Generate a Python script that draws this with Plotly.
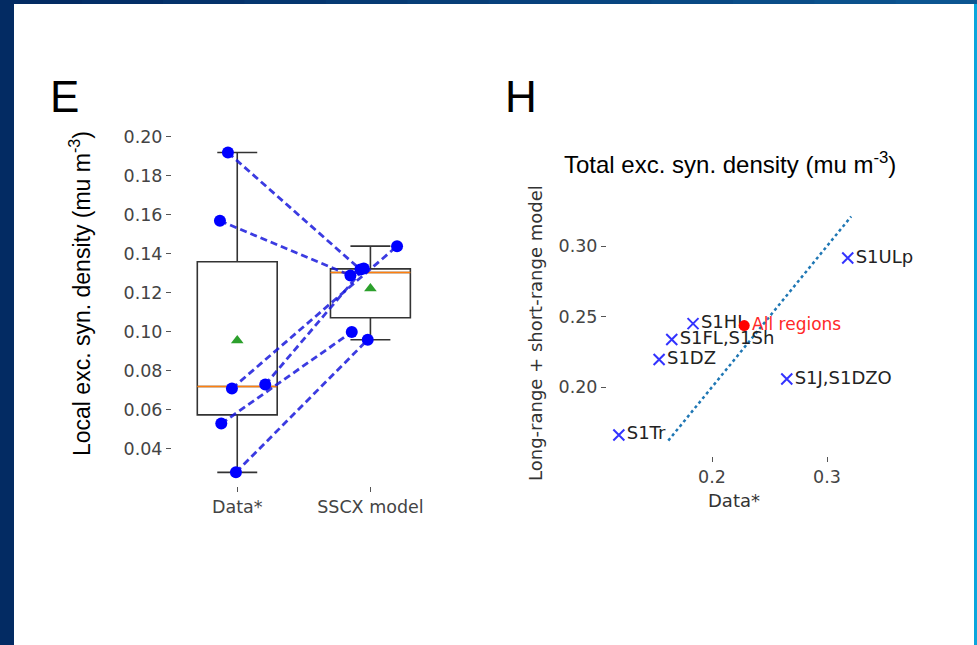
import numpy as np
import plotly.graph_objects as go

# ---------------- data ----------------
categories = ["Data*", "SSCX model"]
data_vals = [0.192, 0.157, 0.071, 0.073, 0.053, 0.028]
model_vals = [0.132, 0.129, 0.144, 0.1325, 0.100, 0.096]
data_offsets = [-0.07, -0.13, -0.04, 0.21, -0.12, -0.01]
model_offsets = [-0.075, -0.15, 0.2, -0.05, -0.14, -0.02]
left_yticks = [0.04, 0.06, 0.08, 0.10, 0.12, 0.14, 0.16, 0.18, 0.20]

regions = ["S1ULp", "S1HL", "S1FL,S1Sh", "S1DZ", "S1J,S1DZO", "S1Tr"]
region_data = [0.318, 0.1835, 0.165, 0.154, 0.265, 0.119]
region_model = [0.2915, 0.245, 0.2337, 0.2195, 0.2057, 0.166]
all_regions_data = [0.228]
all_regions_model = [0.2436]
identity_span = [0.162, 0.321]
right_xticks = [0.2, 0.3]
right_yticks = [0.20, 0.25, 0.30]

W, H = 977, 645
def px(x):
    return x / W
def py(y):
    return 1 - y / H

TICKFONT = dict(family="DejaVu Sans", size=17.5, color="#444")
fig = go.Figure()

# ---------------- left panel: box plots ----------------
groups = [data_vals, model_vals]
for i, vals in enumerate(groups):
    pos = i + 1
    arr = np.array(vals)
    q1, med, q3 = np.percentile(arr, [25, 50, 75])
    iqr = q3 - q1
    lo = arr[arr >= q1 - 1.5 * iqr].min()
    hi = arr[arr <= q3 + 1.5 * iqr].max()
    fig.add_trace(go.Box(
        x=[pos], q1=[q1], median=[med], q3=[q3], lowerfence=[lo], upperfence=[hi],
        width=0.6, whiskerwidth=0.5, fillcolor="white",
        line=dict(color="#333", width=1.6), boxpoints=False,
        xaxis="x", yaxis="y", showlegend=False, hoverinfo="skip"))
    fig.add_trace(go.Scatter(
        x=[pos - 0.3, pos + 0.3], y=[med, med], mode="lines",
        line=dict(color="#ff7f0e", width=1.6), xaxis="x", yaxis="y",
        showlegend=False, hoverinfo="skip"))
    fig.add_trace(go.Scatter(
        x=[pos], y=[arr.mean()], mode="markers",
        marker=dict(symbol="triangle-up", color="#2ca02c", size=11),
        xaxis="x", yaxis="y", showlegend=False))

# connecting dashed lines
for dv, mv, do, mo in zip(data_vals, model_vals, data_offsets, model_offsets):
    fig.add_trace(go.Scatter(
        x=[1 + do, 2 + mo], y=[dv, mv], mode="lines",
        line=dict(color="rgba(25,25,220,0.85)", width=2.8, dash="7px,4px"),
        xaxis="x", yaxis="y", showlegend=False, hoverinfo="skip"))

fig.add_trace(go.Scatter(
    x=[1 + o for o in data_offsets] + [2 + o for o in model_offsets],
    y=data_vals + model_vals, mode="markers",
    marker=dict(color="#0000ff", size=12),
    xaxis="x", yaxis="y", showlegend=False))

# ---------------- right panel: scatter ----------------
fig.add_trace(go.Scatter(
    x=identity_span, y=identity_span, mode="lines",
    line=dict(color="#1f77b4", width=2.5, dash="dot"),
    xaxis="x2", yaxis="y2", showlegend=False, hoverinfo="skip"))
fig.add_trace(go.Scatter(
    x=region_data, y=region_model, mode="markers+text", text=regions,
    textposition="middle right", cliponaxis=False,
    textfont=dict(family="DejaVu Sans", size=18, color="#222"),
    marker=dict(symbol="x-thin", color="#3333ff", size=11,
                line=dict(color="#3333ff", width=2)),
    xaxis="x2", yaxis="y2", showlegend=False))
fig.add_trace(go.Scatter(
    x=all_regions_data, y=all_regions_model, mode="markers+text",
    text=["All regions"], textposition="middle right", cliponaxis=False,
    textfont=dict(family="DejaVu Sans", size=17, color="#ff2828"),
    marker=dict(color="#ff0000", size=11),
    xaxis="x2", yaxis="y2", showlegend=False))

# ---------------- axes ----------------
fig.update_layout(
    width=W, height=H, margin=dict(l=0, r=0, t=0, b=0),
    paper_bgcolor="white", plot_bgcolor="white",
    xaxis=dict(domain=[px(172), px(437)], range=[0.51, 2.5],
               tickvals=[1, 2], ticktext=categories, showgrid=False,
               zeroline=False, showline=False, ticks="outside", ticklen=5,
               tickcolor="#555", tickfont=TICKFONT),
    yaxis=dict(domain=[py(486), py(128)], range=[0.021, 0.2046],
               tickvals=left_yticks, ticktext=[f"{v:.2f}" for v in left_yticks],
               showgrid=False, zeroline=False, showline=False,
               ticks="outside", ticklen=5, tickcolor="#555", tickfont=TICKFONT),
    xaxis2=dict(domain=[px(607), px(865)], range=[0.1087, 0.333],
                tickvals=right_xticks, ticktext=["0.2", "0.3"], showgrid=False,
                zeroline=False, showline=False, ticks="outside", ticklen=5,
                tickcolor="#555", tickfont=TICKFONT, anchor="y2"),
    yaxis2=dict(domain=[py(456), py(205)], range=[0.1511, 0.3291],
                tickvals=right_yticks, ticktext=[f"{v:.2f}" for v in right_yticks],
                showgrid=False, zeroline=False, showline=False,
                ticks="outside", ticklen=5, tickcolor="#555", tickfont=TICKFONT,
                anchor="x2"),
)

# ---------------- text annotations ----------------
ann = [
    dict(text="E", x=px(64), y=py(96), font=dict(family="Liberation Sans", size=44, color="black")),
    dict(text="H", x=px(521), y=py(96), font=dict(family="Liberation Sans", size=44, color="black")),
    dict(text="Local exc. syn. density (mu m<sup>-3</sup>)", x=px(80), y=py(294), textangle=-90,
         font=dict(family="Liberation Sans", size=23, color="black")),
    dict(text="Total exc. syn. density (mu m<sup>-3</sup>)", x=px(730), y=py(163),
         font=dict(family="Liberation Sans", size=24, color="black")),
    dict(text="Long-range + short-range model", x=px(535), y=py(333), textangle=-90,
         font=dict(family="DejaVu Sans", size=18, color="#333")),
    dict(text="Data*", x=px(734), y=py(500),
         font=dict(family="DejaVu Sans", size=18, color="#333")),
]
for a in ann:
    fig.add_annotation(xref="paper", yref="paper", showarrow=False,
                       xanchor="center", yanchor="middle", **a)

# ---------------- frame ----------------
shapes = []
shapes.append(dict(type="rect", xref="paper", yref="paper", x0=0, x1=px(14), y0=0, y1=1,
                   fillcolor="#032b63", line=dict(width=0), layer="above"))
nseg = 12
c0 = np.array([3, 43, 99])
c1 = np.array([12, 85, 145])
for k in range(nseg):
    c = c0 + (c1 - c0) * k / (nseg - 1)
    shapes.append(dict(type="rect", xref="paper", yref="paper",
                       x0=k / nseg, x1=(k + 1) / nseg + 0.002, y0=py(4), y1=1,
                       fillcolor=f"rgb({int(c[0])},{int(c[1])},{int(c[2])})",
                       line=dict(width=0), layer="above"))
shapes.append(dict(type="rect", xref="paper", yref="paper", x0=px(974), x1=1, y0=0, y1=py(4),
                   fillcolor="#0aa6dc", line=dict(width=0), layer="above"))
fig.update_layout(shapes=shapes)

fig.write_html("out.html")
